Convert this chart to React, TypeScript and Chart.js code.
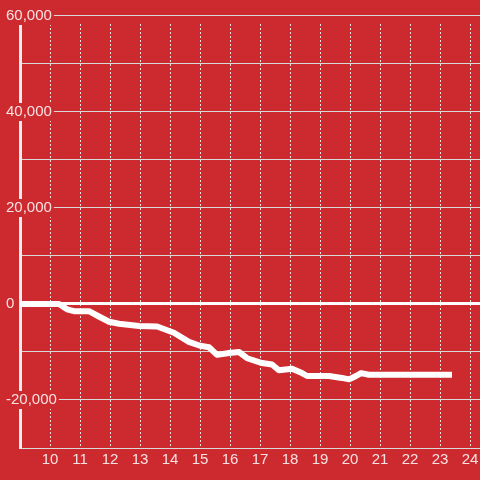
import { useEffect, useRef } from 'react';
import { Chart, registerables } from 'chart.js';

Chart.register(...registerables);

// Hours of the day (x) and running balance (y)
const hours = [8.9, 10.3, 10.57, 10.8, 11.3, 11.63, 11.97, 12.3, 12.97, 13.57, 14.13, 14.63, 15.0, 15.3, 15.57, 15.97, 16.3, 16.57, 17.07, 17.4, 17.63, 18.07, 18.4, 18.57, 19.3, 19.73, 19.97, 20.2, 20.37, 20.63, 23.4];
const values = [0, 0, -1100, -1500, -1500, -2600, -3700, -4100, -4600, -4700, -6000, -7900, -8700, -9000, -10600, -10200, -10000, -11300, -12300, -12600, -13800, -13500, -14400, -15000, -15000, -15400, -15700, -15000, -14400, -14750, -14750];

const xTicks = [10, 11, 12, 13, 14, 15, 16, 17, 18, 19, 20, 21, 22, 23, 24];
const yTicks = [-30000, -20000, -10000, 0, 10000, 20000, 30000, 40000, 50000, 60000];
const yLabelled = [-20000, 0, 20000, 40000, 60000];

const BG = '#cd2a2f';
const TEXT = 'rgba(255,255,255,0.86)';
const FONT = { family: "'Liberation Sans', Arial, sans-serif", size: 15 };

export default function App() {
  const ref = useRef<HTMLCanvasElement>(null);

  useEffect(() => {
    const chart = new Chart(ref.current as HTMLCanvasElement, {
      type: 'line',
      data: {
        datasets: [
          {
            data: hours.map((h, i) => ({ x: h, y: values[i] })),
            borderColor: '#ffffff',
            borderWidth: 6,
            pointRadius: 0,
            tension: 0,
            borderJoinStyle: 'round',
            fill: false,
          },
        ],
      },
      options: {
        animation: false,
        responsive: false,
        maintainAspectRatio: false,
        layout: { padding: { left: 6, top: 24, right: 0, bottom: 0 } },
        plugins: { legend: { display: false }, tooltip: { enabled: false } },
        scales: {
          x: {
            type: 'linear',
            min: 9,
            max: 24.3333,
            afterBuildTicks: (s: any) => {
              s.ticks = xTicks.map((v) => ({ value: v }));
            },
            afterFit: (s: any) => {
              s.height = 32;
              s.paddingLeft = 0;
              s.paddingRight = 0;
            },
            grid: { color: 'rgba(235,235,235,0.95)', lineWidth: 1, drawTicks: false },
            border: { display: false, dash: [2, 2] },
            ticks: {
              color: TEXT,
              font: FONT,
              padding: 3,
              maxRotation: 0,
              autoSkip: false,
              callback: (v: any) => String(v),
            },
          },
          y: {
            type: 'linear',
            position: 'left',
            min: -30000,
            max: 58333.33,
            afterBuildTicks: (s: any) => {
              s.ticks = yTicks.map((v) => ({ value: v }));
            },
            afterFit: (s: any) => {
              s.width = 14;
              s.paddingTop = 0;
              s.paddingBottom = 0;
            },
            grid: {
              color: (c: any) => (c.tick && c.tick.value === 0 ? '#ffffff' : '#d8d8d8'),
              lineWidth: (c: any) => (c.tick && c.tick.value === 0 ? 3 : 1),
              drawTicks: false,
            },
            border: { display: true, color: '#eeeeee', width: 3 },
            ticks: {
              color: TEXT,
              font: FONT,
              mirror: true,
              crossAlign: 'near',
              padding: -14,
              autoSkip: false,
              showLabelBackdrop: (c: any) => yLabelled.includes(c.tick && c.tick.value),
              backdropColor: BG,
              backdropPadding: { x: 2, y: 0 },
              callback: (v: any) => (yLabelled.includes(v) ? Number(v).toLocaleString('en-US') : ''),
            },
          },
        },
      },
    } as any);
    return () => chart.destroy();
  }, []);

  return (
    <div style={{ position: 'fixed', left: 0, top: 0, width: 480, height: 480, background: BG }}>
      <canvas ref={ref} width={480} height={480} style={{ display: 'block', background: BG }} />
    </div>
  );
}
